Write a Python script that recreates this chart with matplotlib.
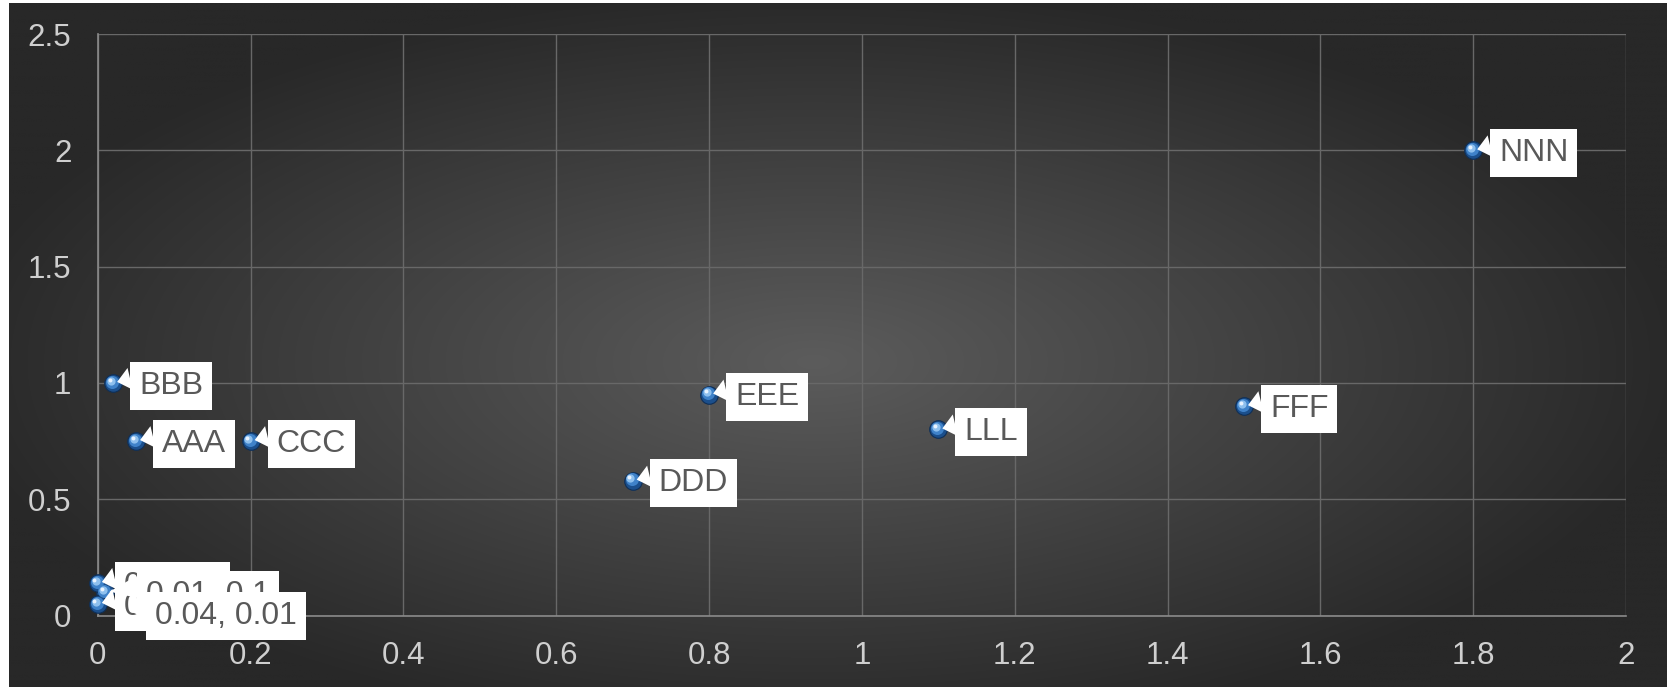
import numpy as np
import matplotlib
matplotlib.use("Agg")
import matplotlib.pyplot as plt
from matplotlib.transforms import ScaledTranslation

plt.rcParams['font.family'] = ['Liberation Sans', 'DejaVu Sans']

# ---- data ----
x_vals = [0.01, 0.0, 0.0, 0.04, 0.02, 0.05, 0.2, 0.7, 0.8, 1.1, 1.5, 1.8]
y_vals = [0.10, 0.14, 0.05, 0.01, 1.0, 0.75, 0.75, 0.58, 0.95, 0.80, 0.90, 2.0]
labels = ["0.01, 0.1", "0, 0.14", "0, 0.05", "0.04, 0.01", "BBB", "AAA", "CCC",
          "DDD", "EEE", "LLL", "FFF", "NNN"]
label_order = [1, 2, 0, 3, 4, 5, 6, 7, 8, 9, 10, 11]   # drawing order of labels
label_dx = [31, 16, 16, 17, 16, 16, 16, 16, 16, 16, 16, 16]  # px offset of label box
x_ticks = [0, 0.2, 0.4, 0.6, 0.8, 1, 1.2, 1.4, 1.6, 1.8, 2]
x_ticklabels = ["0", "0.2", "0.4", "0.6", "0.8", "1", "1.2", "1.4", "1.6", "1.8", "2"]
y_ticks = [0, 0.5, 1, 1.5, 2, 2.5]
y_ticklabels = ["0", "0.5", "1", "1.5", "2", "2.5"]

W, H, DPI = 1667, 687, 100
fig = plt.figure(figsize=(W / DPI, H / DPI), dpi=DPI, facecolor='white')

# ---- radial gradient background ----
bg = fig.add_axes([9 / W, 0, 1 - 9 / W, 1 - 3 / H])
bg.set_axis_off()
ny, nx = 300, 700
gx = np.linspace(-1, 1, nx)
gy = np.linspace(-1, 1, ny)
GX, GY = np.meshgrid(gx, gy)
r = np.clip(np.sqrt(((GX + 0.03) / 1.05) ** 2 + ((GY - 0.05) / 1.1) ** 2), 0, 1.0)
c_center = np.array([0x5c, 0x5c, 0x5c]) / 255
c_edge = np.array([0x28, 0x28, 0x28]) / 255
img = c_center[None, None, :] * (1 - r[..., None]) + c_edge[None, None, :] * r[..., None]
bg.imshow(img, aspect='auto', extent=[0, 1, 0, 1], interpolation='bilinear')
bg.set_xlim(0, 1)
bg.set_ylim(0, 1)

# ---- main axes ----
ax = fig.add_axes([97.8 / W, 1 - 615.5 / H, (1626 - 97.8) / W, (615.5 - 34) / H])
ax.patch.set_alpha(0)
ax.set_xlim(0, 2)
ax.set_ylim(0, 2.5)
ax.set_xticks(x_ticks)
ax.set_xticklabels(x_ticklabels)
ax.set_yticks(y_ticks)
ax.set_yticklabels(y_ticklabels)
ax.grid(True, color='#686868', lw=1.0)
ax.set_axisbelow(True)
for s in ['top', 'right']:
    ax.spines[s].set_visible(False)
for s in ['left', 'bottom']:
    ax.spines[s].set_color('#8a8a8a')
    ax.spines[s].set_linewidth(1.2)
ax.tick_params(axis='both', length=0, labelsize=22.5, labelcolor='#cfcfcf')
ax.tick_params(axis='y', pad=19)
ax.tick_params(axis='x', pad=18)

# ---- markers with a 3D-ish look ----
def off(dx, dy):
    return ax.transData + ScaledTranslation(dx / 72, dy / 72, fig.dpi_scale_trans)

ms = 160
ax.scatter(x_vals, y_vals, s=ms, color='#1b4f8c', edgecolor='#0f2f57', lw=0.8,
           zorder=3, clip_on=False)
ax.scatter(x_vals, y_vals, s=ms * 0.55, color='#3f82c9', lw=0, zorder=3.1,
           clip_on=False, transform=off(-0.8, 0.8))
ax.scatter(x_vals, y_vals, s=ms * 0.22, color='#8ec0ee', lw=0, zorder=3.2,
           clip_on=False, transform=off(-1.6, 1.6))
ax.scatter(x_vals, y_vals, s=ms * 0.05, color='#e8f3ff', lw=0, zorder=3.3,
           clip_on=False, transform=off(-2.4, 2.4))

# ---- data labels with callouts ----
for k, i in enumerate(label_order):
    dx_pt = (label_dx[i] + 10) * 72 / DPI
    ax.annotate(labels[i], xy=(x_vals[i], y_vals[i]), xytext=(dx_pt, -2),
                textcoords='offset points', ha='left', va='center',
                fontsize=23, color='#595959', zorder=5 + k,
                bbox=dict(boxstyle='square,pad=0.28', fc='white', ec='none'),
                arrowprops=dict(arrowstyle='wedge,tail_width=0.7,shrink_factor=0.5',
                                fc='white', ec='none', shrinkA=0, shrinkB=3,
                                connectionstyle='arc3', relpos=(0, 0.8)),
                annotation_clip=False)

fig.savefig('out.png', dpi=DPI, facecolor='white')
